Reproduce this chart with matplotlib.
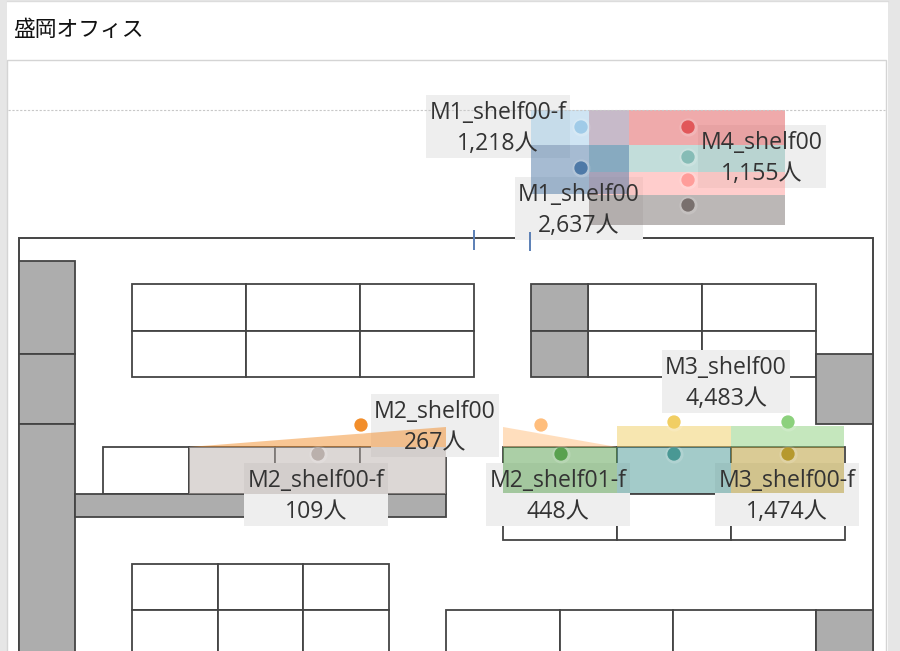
import matplotlib
matplotlib.use("Agg")
import matplotlib.pyplot as plt
from matplotlib.patches import Polygon, Rectangle

FONT = ["Open Sans", "Noto Sans CJK JP", "DejaVu Sans"]

# floor plan, in plan coordinates (x0, y0, x1, y1)
open_cells = [
    (132, 284, 246, 331), (246, 284, 360, 331), (360, 284, 474, 331),
    (132, 331, 246, 377), (246, 331, 360, 377), (360, 331, 474, 377),
    (588, 284, 702, 331), (702, 284, 816, 331),
    (588, 331, 702, 377), (702, 331, 816, 377),
    (103, 447, 189, 494), (189, 447, 275, 494), (275, 447, 360, 494), (360, 447, 446, 494),
    (503, 447, 617, 494), (617, 447, 731, 494), (731, 447, 845, 494),
    (503, 494, 617, 540), (617, 494, 731, 540), (731, 494, 845, 540),
    (132, 564, 218, 610), (218, 564, 303, 610), (303, 564, 389, 610),
    (132, 610, 218, 660), (218, 610, 303, 660), (303, 610, 389, 660),
    (446, 610, 560, 660), (560, 610, 673, 660), (673, 610, 816, 660),
]
solid_cells = [
    (19, 261, 75, 354), (19, 354, 75, 424), (19, 424, 75, 660),
    (531, 284, 588, 331), (531, 331, 588, 377),
    (816, 354, 873, 424), (816, 610, 873, 660),
    (75, 494, 446, 517),
]
door_x = [474, 530]
door_y0 = [230, 232]
door_y1 = [250, 251]

# coloured shelf areas, drawn in this order
area_colors = [
    "#e15759", "#86bcb6", "#ff9d9a", "#79706e", "#a0cbe8", "#4e79a7",
    "#bab0ac", "#f28e2b", "#ffbe7d", "#f1ce63", "#8cd17d", "#59a14f", "#499894", "#b6992d",
]
area_shapes = [
    [(589, 110), (785, 110), (785, 145), (589, 145)],
    [(589, 145), (785, 145), (785, 172), (589, 172)],
    [(589, 172), (785, 172), (785, 195), (589, 195)],
    [(589, 195), (785, 195), (785, 225), (589, 225)],
    [(531, 110), (629, 110), (629, 145), (531, 145)],
    [(531, 145), (629, 145), (629, 194), (531, 194)],
    [(189, 447), (446, 447), (446, 494), (189, 494)],
    [(189, 447), (446, 427), (446, 447)],
    [(503, 427), (617, 447), (503, 447)],
    [(617, 426), (731, 426), (731, 447), (617, 447)],
    [(731, 426), (844, 426), (844, 447), (731, 447)],
    [(503, 447), (617, 447), (617, 493), (503, 493)],
    [(617, 447), (731, 447), (731, 493), (617, 493)],
    [(731, 447), (844, 447), (844, 493), (731, 493)],
]
point_x = [688, 688, 688, 688, 581, 581, 318, 361, 541, 674, 788, 561, 674, 788]
point_y = [127, 157, 180, 205, 127, 168, 454, 425, 425, 422, 422, 454, 454, 454]

# labels
label_names = ["M1_shelf00-f", "M1_shelf00", "M4_shelf00", "M2_shelf00",
               "M2_shelf00-f", "M2_shelf01-f", "M3_shelf00-f", "M3_shelf00"]
label_counts = ["1,218人", "2,637人", "1,155人", "267人",
                "109人", "448人", "1,474人", "4,483人"]
label_x = [498, 579, 762, 435, 316, 558, 787, 726]
label_y = [95, 177, 125, 394, 463, 463, 463, 350]
label_w = [144, 128, 128, 128, 144, 144, 144, 128]
label_h = 63


def draw_frame(ax):
    ax.add_patch(Rectangle((7, 1), 881, 660, fc="white", ec="none"))
    ax.plot([7, 888], [0.5, 0.5], color="#dcdcdc", lw=1)
    ax.add_patch(Rectangle((7, 60), 879, 600, fc="white", ec="#d4d4d4", lw=1))


def draw_plan(ax):
    ax.plot([8, 885], [110, 110], color="#c8c8c8", lw=0.8, ls=(0, (2, 1.5)))
    ax.add_patch(Rectangle((19, 238), 854, 430, fc="white", ec="#444444", lw=1.4))
    for x0, y0, x1, y1 in open_cells:
        ax.add_patch(Rectangle((x0, y0), x1 - x0, y1 - y0, fc="white", ec="#444444", lw=1.3))
    for x0, y0, x1, y1 in solid_cells:
        ax.add_patch(Rectangle((x0, y0), x1 - x0, y1 - y0, fc="#adadad", ec="#444444", lw=1.3))
    ax.vlines(door_x, door_y0, door_y1, color="#5b7fb5", lw=1.4)


def draw_marks(ax):
    for x, y, w in zip(label_x, label_y, label_w):
        ax.add_patch(Rectangle((x - w / 2, y), w, label_h, fc="#eeeeee", ec="none"))
    for shape, color in zip(area_shapes, area_colors):
        ax.add_patch(Polygon(shape, closed=True, fc=color, ec="none", alpha=0.5))
    ax.scatter(point_x, point_y, s=170, c="white", alpha=0.15, linewidths=0)
    ax.scatter(point_x, point_y, s=92, c=area_colors, linewidths=0)


def draw_labels(ax):
    for name, count, x, y in zip(label_names, label_counts, label_x, label_y):
        ax.text(x, y + 18, name, ha="center", va="center", fontsize=16.6, family=FONT, color="#333333")
        ax.text(x, y + 49, count, ha="center", va="center", fontsize=16.6, family=FONT, color="#333333")


fig = plt.figure(figsize=(9, 6.51), dpi=100, facecolor="#e6e6e6")
ax = fig.add_axes([0, 0, 1, 1])
ax.set_xlim(0, 900)
ax.set_ylim(651, 0)
ax.axis("off")

draw_frame(ax)
draw_plan(ax)
draw_marks(ax)
draw_labels(ax)
ax.text(13, 30, "盛岡オフィス", ha="left", va="center", fontsize=15.7,
        family=["Noto Sans CJK JP", "DejaVu Sans"], color="#111111")

fig.savefig("out.png", dpi=100)
